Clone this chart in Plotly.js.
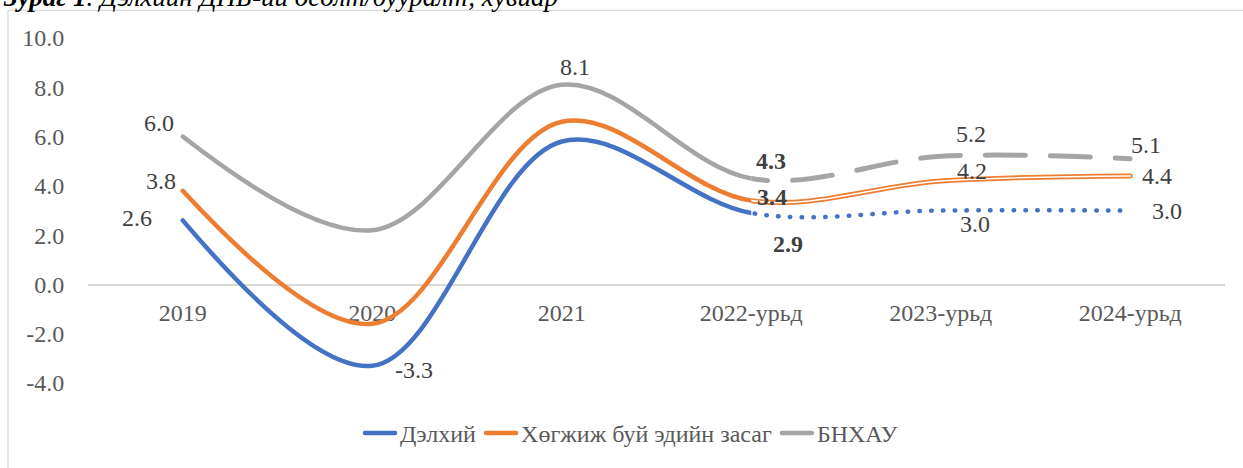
<!DOCTYPE html>
<html>
<head>
<meta charset="utf-8">
<script src="https://cdn.plot.ly/plotly-3.0.1.min.js"></script>
<style>
html,body{margin:0;padding:0;background:#fff;}
#chart{width:1243px;height:468px;}
.js-line{stroke-linecap:round;stroke-linejoin:round;}
</style>
</head>
<body>
<div id="chart"></div>
<script>
// ---- data ----
const categories = ['2019', '2020', '2021', '2022-урьд', '2023-урьд', '2024-урьд'];
const world = [2.6, -3.3, 5.8, 2.9, 3.0, 3.0];      // Дэлхий
const emde  = [3.8, -1.6, 6.6, 3.4, 4.2, 4.4];      // Хөгжиж буй эдийн засаг
const china = [6.0, 2.2, 8.1, 4.3, 5.2, 5.1];       // БНХАУ
const seriesNames = ['Дэлхий', 'Хөгжиж буй эдийн засаг', 'БНХАУ'];
const yTicks = [-4, -2, 0, 2, 4, 6, 8, 10];
const titleText = '<i><b>Зураг 1</b>. Дэлхийн ДНБ-ий өсөлт/бууралт, хувиар</i>';
const lastActual = 3; // index of 2022-урьд: forecast part starts here

// ---- styles ----
const BLUE = '#4472C4', ORANGE = '#ED7D31', GRAY = '#A5A5A5';
const FONT = 'Liberation Serif, Times New Roman, serif';
const FS = 24;
const W = 4.5;
const xIdx = categories.map((c, i) => i);
const split = (lastActual + 0.5) / categories.length; // paper position of the 2022 category

const traces = [];
// actual (solid) part: whole-series spline, clipped by subplot x2 to 2019..2022
[[world, BLUE, 0], [emde, ORANGE, 1], [china, GRAY, 2]].forEach(([arr, col, i]) => {
  traces.push({ x: xIdx, y: arr, xaxis: 'x2', yaxis: 'y', type: 'scatter', mode: 'lines',
    name: seriesNames[i], line: { color: col, width: W, shape: 'spline', smoothing: 1 },
    hoverinfo: 'skip' });
});
// forecast part: same spline, clipped by subplot x3 to 2022..2024
traces.push({ x: xIdx, y: china, xaxis: 'x3', yaxis: 'y', type: 'scatter', mode: 'lines', showlegend: false,
  line: { color: GRAY, width: 5, shape: 'spline', smoothing: 1, dash: '40px,25px' }, hoverinfo: 'skip' });
traces.push({ x: xIdx, y: emde, xaxis: 'x3', yaxis: 'y', type: 'scatter', mode: 'lines', showlegend: false,
  line: { color: ORANGE, width: 5, shape: 'spline', smoothing: 1 }, hoverinfo: 'skip' });
traces.push({ x: xIdx, y: emde, xaxis: 'x3', yaxis: 'y', type: 'scatter', mode: 'lines', showlegend: false,
  line: { color: '#ffffff', width: 1.6, shape: 'spline', smoothing: 1 }, hoverinfo: 'skip' });
traces.push({ x: xIdx, y: world, xaxis: 'x3', yaxis: 'y', type: 'scatter', mode: 'lines', showlegend: false,
  line: { color: BLUE, width: 4.5, shape: 'spline', smoothing: 1, dash: '0.5px,11.3px' }, hoverinfo: 'skip' });

// ---- data labels (offsets in px, null = no label) ----
const labelOffsets = {
  world: [[-46, 2], [42, -4], null, [37, -31], [34, -13], [37, 0]],
  emde:  [[-22, 10], null, null, [21, 4], [31, 10], [27, 0]],
  china: [[-24, 14], null, [13, 18], [20, 17], [30, 22], [16, 14]]
};
const annotations = [];
[['world', world], ['emde', emde], ['china', china]].forEach(([key, arr]) => {
  arr.forEach((v, i) => {
    const off = labelOffsets[key][i];
    if (!off) return;
    const bold = i === lastActual;
    annotations.push({
      x: xIdx[i], y: v, xref: 'x', yref: 'y', showarrow: false,
      text: bold ? '<b>' + v.toFixed(1) + '</b>' : v.toFixed(1),
      xshift: off[0], yshift: off[1], xanchor: 'center', yanchor: 'middle',
      font: { family: FONT, size: FS, color: '#404040' }
    });
  });
});
// chart caption above the frame (partly outside the picture, as in the original)
annotations.push({
  text: titleText, xref: 'paper', yref: 'paper', x: -0.0765, y: 1.1175,
  xanchor: 'left', yanchor: 'middle', showarrow: false,
  font: { family: FONT, size: 27, color: '#000000' }
});

const hiddenAxis = { visible: false, showgrid: false, zeroline: false, fixedrange: true, anchor: 'y' };

const layout = {
  width: 1243, height: 468,
  paper_bgcolor: '#ffffff', plot_bgcolor: 'rgba(0,0,0,0)',
  margin: { l: 88, r: 18, t: 38, b: 81, pad: 0 },
  xaxis: {
    type: 'linear', range: [-0.5, categories.length - 0.5], domain: [0, 1],
    tickvals: xIdx, ticktext: categories,
    anchor: 'free', position: 4 / 14,
    showline: true, linecolor: '#d9d9d9', linewidth: 1.3,
    showgrid: false, zeroline: false,
    ticks: 'outside', ticklen: 6, tickcolor: 'rgba(0,0,0,0)',
    tickfont: { family: FONT, size: FS, color: '#595959' }, fixedrange: true
  },
  xaxis2: Object.assign({ type: 'linear', domain: [0, split], range: [-0.5, lastActual] }, hiddenAxis),
  xaxis3: Object.assign({ type: 'linear', domain: [split, 1], range: [lastActual, categories.length - 0.5] }, hiddenAxis),
  yaxis: {
    range: [-4, 10], tickvals: yTicks, ticktext: yTicks.map(v => v.toFixed(1)),
    anchor: 'x',
    showgrid: false, zeroline: false, showline: false,
    ticks: 'outside', ticklen: 18, tickcolor: 'rgba(0,0,0,0)',
    tickfont: { family: FONT, size: FS, color: '#595959' }, fixedrange: true
  },
  showlegend: true,
  legend: {
    orientation: 'h', x: 0.478, xanchor: 'center', y: -0.146, yanchor: 'middle',
    font: { family: FONT, size: FS, color: '#595959' }, bgcolor: 'rgba(0,0,0,0)',
    itemwidth: 30, tracegroupgap: 0
  },
  annotations: annotations,
  shapes: [
    { type: 'line', xref: 'paper', yref: 'paper', x0: -0.0704, x1: -0.0704, y0: 1.0802, y1: -0.35,
      line: { color: '#d9d9d9', width: 1.3 } },
    { type: 'line', xref: 'paper', yref: 'paper', x0: -0.0704, x1: 1.1, y0: 1.0802, y1: 1.0802,
      line: { color: '#d9d9d9', width: 1.3 } }
  ]
};

Plotly.newPlot('chart', traces, layout, { staticPlot: true, displayModeBar: false });
</script>
</body>
</html>
